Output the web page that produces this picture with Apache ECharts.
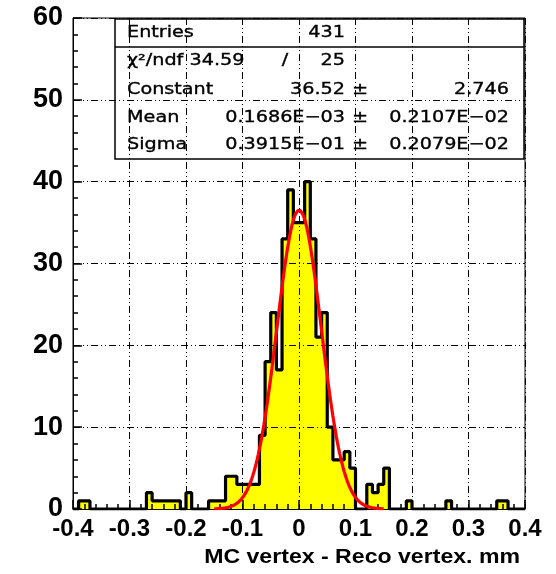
<!DOCTYPE html>
<html>
<head>
<meta charset="utf-8">
<script src="https://cdn.jsdelivr.net/npm/echarts@6/dist/echarts.min.js"></script>
<style>
  html, body { margin: 0; padding: 0; background: #ffffff; }
  #chart { width: 556px; height: 574px; }
</style>
</head>
<body>
<div id="chart"></div>
<script>
// Vertex residual histogram: 80 bins of 0.01 mm over [-0.4, 0.4]
const binLow = -0.4;
const binWidth = 0.01;
const counts = [
  0, 1, 1, 0, 0, 0, 0, 0, 0, 0,
  0, 0, 0, 2, 1, 1, 1, 1, 1, 0,
  2, 0, 0, 0, 1, 1, 1, 4, 4, 3,
  3, 3, 3, 9, 18, 24, 17, 33, 39, 35,
  35, 40, 33, 21, 24, 10, 6, 6, 7, 5,
  0, 0, 3, 2, 3, 5, 0, 0, 0, 1,
  0, 0, 0, 0, 0, 0, 1, 0, 0, 0,
  0, 0, 0, 0, 0, 1, 1, 0, 0, 0
];

// Gaussian fit parameters (as printed in the statistics box) and fit window
const fitConstant = 36.52;
const fitMean = 0.1686e-3;
const fitSigma = 0.3915e-1;
const fitRange = [-0.15, 0.15];

// Axis ranges
const xRange = [-0.4, 0.4];
const yRange = [0, 60];

// Statistics box rows: label, value, error
const statLabels = ['Entries', 'χ²/ndf 34.59', 'Constant', 'Mean', 'Sigma'];
const statValues = ['431', '25', '36.52', '0.1686E\u221203', '0.3915E\u221201'];
const statErrors = ['', '', '2.746', '0.2107E\u221202', '0.2079E\u221202'];

// Step outline of the histogram (edges -> counts)
const stepPoints = [[binLow, 0]];
counts.forEach((c, i) => stepPoints.push([binLow + i * binWidth, c]));
stepPoints.push([binLow + counts.length * binWidth, counts[counts.length - 1]]);
stepPoints.push([binLow + counts.length * binWidth, 0]);

// Fitted gaussian sampled over the fit window
const fitCurve = [];
for (let k = 0; k <= 150; k++) {
  const x = fitRange[0] + (fitRange[1] - fitRange[0]) * k / 150;
  const z = (x - fitMean) / fitSigma;
  fitCurve.push([x, fitConstant * Math.exp(-0.5 * z * z)]);
}

const chart = echarts.init(document.getElementById('chart'), null, { renderer: 'canvas' });

const gridDash = [7, 3, 1, 3, 1, 3];
const labelFont = '"Liberation Sans", Arial, sans-serif';
const statFont = '16px "DejaVu Sans", sans-serif';

function statText(t, x, y, align) {
  return {
    type: 'text', z: 101, x: x, y: y, scaleX: 1.2,
    style: {
      text: t, font: statFont, fill: '#000', stroke: '#000', lineWidth: 0.35,
      align: align, verticalAlign: 'middle'
    }
  };
}

// Statistics box
const boxLeft = 115, boxTop = 19, boxRight = 524, boxBottom = 159;
const rowY = [33, 61, 90, 118, 145];
const statGraphics = [
  {
    type: 'rect', z: 100,
    shape: { x: boxLeft, y: boxTop, width: boxRight - boxLeft, height: boxBottom - boxTop },
    style: { fill: 'none', stroke: '#000', lineWidth: 1.5 }
  },
  {
    type: 'line', z: 100,
    shape: { x1: boxLeft, y1: 47, x2: boxRight, y2: 47 },
    style: { stroke: '#000', lineWidth: 1.5 }
  }
];
statLabels.forEach((t, i) => {
  statGraphics.push(statText(t, 127, rowY[i], 'left'));
  statGraphics.push(statText(statValues[i], 345, rowY[i], 'right'));
  if (statErrors[i]) {
    statGraphics.push(statText('±', 352, rowY[i], 'left'));
    statGraphics.push(statText(statErrors[i], 509, rowY[i], 'right'));
  }
});
statGraphics.push(statText('/', 285, rowY[1], 'center'));

// x axis title
statGraphics.push({
  type: 'text', z: 101, x: 520, y: 557, scaleX: 1.1,
  style: { text: 'MC vertex - Reco vertex. mm', font: 'bold 21px ' + labelFont, fill: '#000', align: 'right', verticalAlign: 'middle' }
});

chart.setOption({
  backgroundColor: '#ffffff',
  animation: false,
  grid: {
    left: 73, right: 31, top: 18, bottom: 65,
    show: true, borderColor: '#000', borderWidth: 1, backgroundColor: 'transparent',
    outerBoundsMode: 'none'
  },
  xAxis: {
    type: 'value', min: xRange[0], max: xRange[1], interval: 0.1, z: 5,
    axisLine: { show: true, onZero: false, lineStyle: { color: '#000', width: 1 } },
    axisTick: { show: true, inside: true, length: 9, lineStyle: { color: '#000', width: 1.5 } },
    minorTick: { show: true, splitNumber: 5, length: 5, lineStyle: { color: '#000', width: 1.5 } },
    splitLine: { show: true, lineStyle: { color: '#000', width: 1, type: gridDash } },
    axisLabel: {
      color: '#000', fontSize: 24, fontWeight: 'bold', fontFamily: labelFont, margin: 8,
      formatter: v => (Math.abs(v) < 1e-9 ? '0' : String(Math.round(v * 10) / 10))
    }
  },
  yAxis: {
    type: 'value', min: yRange[0], max: yRange[1], interval: 10, z: 5,
    axisLine: { show: true, onZero: false, lineStyle: { color: '#000', width: 1 } },
    axisTick: { show: true, inside: true, length: 9, lineStyle: { color: '#000', width: 1.5 } },
    minorTick: { show: true, splitNumber: 5, length: 5, lineStyle: { color: '#000', width: 1.5 } },
    splitLine: { show: true, lineStyle: { color: '#000', width: 1, type: gridDash } },
    axisLabel: { color: '#000', fontSize: 27, fontWeight: 'bold', fontFamily: labelFont, margin: 10 }
  },
  series: [
    {
      name: 'histogram', type: 'line', data: stepPoints, step: 'end', z: 2,
      symbol: 'none', clip: true,
      lineStyle: { color: '#000', width: 3.2 },
      areaStyle: { color: '#ffff00', opacity: 1 }
    },
    {
      name: 'gaus fit', type: 'line', data: fitCurve, z: 10,
      symbol: 'none', smooth: false, clip: true,
      lineStyle: { color: '#ff0000', width: 3.2 }
    }
  ],
  graphic: statGraphics
});
</script>
</body>
</html>
